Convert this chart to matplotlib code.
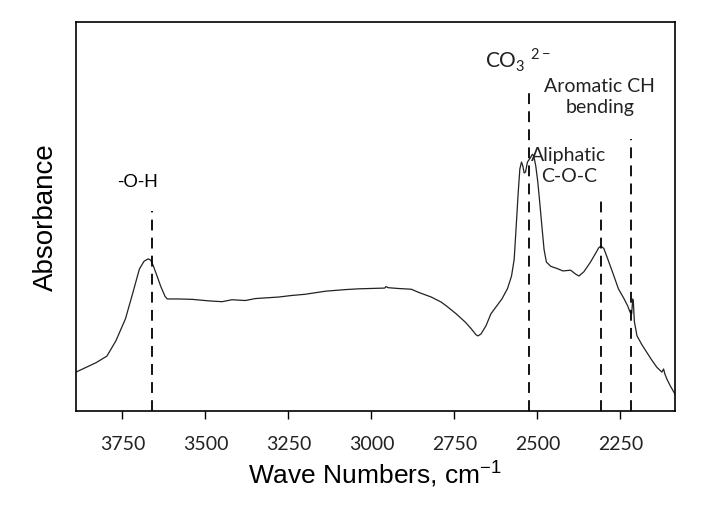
import numpy as np
from matplotlib import pyplot as plt

# spectrum (arbitrary absorbance units, 0 = axis bottom)
wave = [3890, 3860, 3830, 3797, 3770, 3741, 3720, 3699, 3685, 3673, 3665, 3657,
        3645, 3635, 3622, 3615, 3580, 3540, 3489, 3450, 3420, 3400, 3380, 3350,
        3279, 3240, 3200, 3138, 3080, 3040, 3000, 2960, 2956, 2950, 2920, 2880,
        2858, 2820, 2790, 2774, 2745, 2718, 2700, 2685, 2679, 2670, 2655, 2640,
        2607, 2590, 2578, 2570, 2565, 2558, 2553, 2548, 2544, 2540, 2536, 2530,
        2522, 2515, 2511, 2505, 2499, 2494, 2486, 2480, 2473, 2460, 2440, 2423,
        2400, 2385, 2375, 2360, 2340, 2325, 2315, 2309, 2300, 2290, 2275, 2256,
        2240, 2228, 2221, 2216, 2213, 2211, 2208, 2200, 2185, 2170, 2158, 2140,
        2125, 2120, 2116, 2110, 2100, 2086]
absorb = [0.100, 0.112, 0.124, 0.141, 0.180, 0.237, 0.300, 0.365, 0.385, 0.391, 0.388, 0.373,
          0.345, 0.321, 0.295, 0.288, 0.288, 0.287, 0.283, 0.281, 0.286, 0.285, 0.284, 0.289,
          0.293, 0.297, 0.300, 0.308, 0.312, 0.314, 0.315, 0.316, 0.320, 0.317, 0.315, 0.313,
          0.305, 0.293, 0.280, 0.270, 0.250, 0.229, 0.212, 0.196, 0.193, 0.198, 0.219, 0.250,
          0.288, 0.315, 0.347, 0.390, 0.460, 0.560, 0.622, 0.640, 0.630, 0.612, 0.614, 0.640,
          0.650, 0.660, 0.656, 0.630, 0.590, 0.545, 0.470, 0.415, 0.383, 0.372, 0.366, 0.360,
          0.362, 0.352, 0.347, 0.358, 0.383, 0.405, 0.420, 0.424, 0.418, 0.395, 0.360, 0.314,
          0.290, 0.270, 0.254, 0.250, 0.288, 0.280, 0.230, 0.193, 0.170, 0.150, 0.134, 0.112,
          0.100, 0.108, 0.095, 0.082, 0.065, 0.044]

# dashed marker lines: position and top
peak_pos = [3660, 2526, 2309, 2217]
peak_top = [0.514, 0.820, 0.545, 0.699]

xticks = [3750, 3500, 3250, 3000, 2750, 2500, 2250]

fig = plt.figure(figsize=(7.21, 5.06), dpi=100)
ax = fig.add_axes([0.1054, 0.1858, 0.8306, 0.7687])

ax.plot(wave, absorb, color="#222222", lw=0.9)

for p, t in zip(peak_pos, peak_top):
    ax.plot([p, p], [0, t], color="black", lw=1.3, ls=(0, (6, 4)))

ax.set_xlim(3890, 2086)
ax.set_ylim(0, 1)
ax.set_xticks(xticks)
ax.set_yticks([])
ax.tick_params(axis="x", direction="out", length=6, width=1, pad=11)
for lab in ax.get_xticklabels():
    lab.set_fontfamily("Lato")
    lab.set_fontsize(14)
    lab.set_color("#222222")

for s in ax.spines.values():
    s.set_linewidth(1.2)

ax.set_xlabel(r"Wave Numbers, cm$^{\mathregular{-1}}$", fontfamily="Liberation Sans", fontsize=19, labelpad=4)
ax.set_ylabel("Absorbance", fontfamily="Liberation Sans", fontsize=20, labelpad=12)

# annotations
ax.text(3706, 0.589, "-O-H", ha="center", va="center", fontfamily="Liberation Sans", fontsize=13.5)
ax.text(2559, 0.905, r"CO$_{\mathregular{3}}$ $^{\mathregular{2-}}$", ha="center", va="center",
        fontfamily="Lato", fontsize=15, color="#222222")
ax.text(2312, 0.81, "Aromatic CH\nbending", ha="center", va="center", fontfamily="Lato",
        fontsize=14, color="#222222", linespacing=1.3)
ax.text(2405, 0.632, "Aliphatic\nC-O-C", ha="center", va="center", fontfamily="Lato",
        fontsize=14, color="#222222", linespacing=1.3)

fig.savefig("out.png", dpi=100)
